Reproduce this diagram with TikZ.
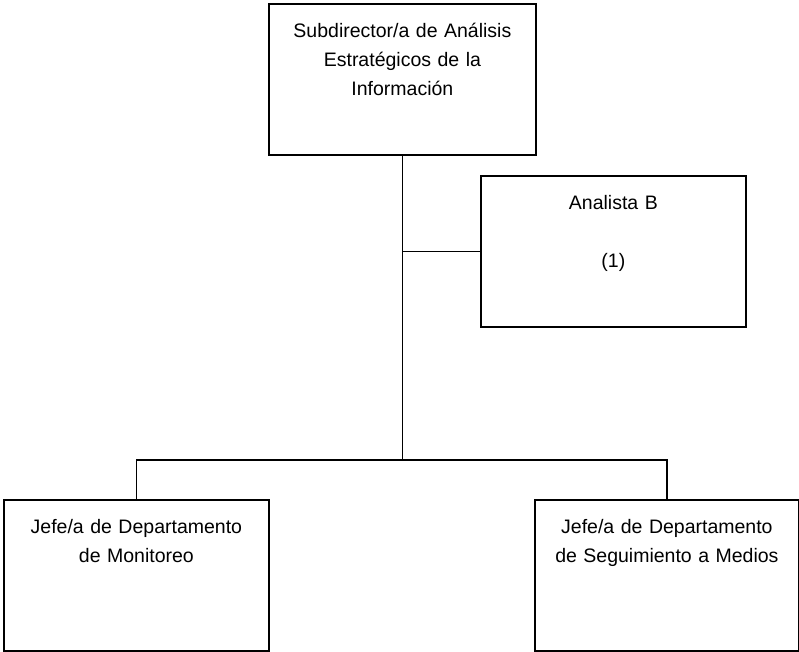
\documentclass[tikz,border=0pt]{standalone}
\usepackage{fontspec}
\setmainfont{Liberation Sans}
\usetikzlibrary{positioning}

\begin{document}
\begin{tikzpicture}[x=1pt, y=-1pt, line width=1.8pt, font=\fontsize{19.5}{29}\selectfont]
	\tikzset{puesto/.style={draw, anchor=north west, inner sep=0pt, align=center, text width=#1, text height=34pt, text depth=117pt}}
	\useasboundingbox (0,0) rectangle (799,652);
	\node[puesto=267pt] (sub) at (268,3) {Subdirector/a de Análisis\\ Estratégicos de la\\ Información};
	\node[puesto=265pt] (analista) at (480,175) {Analista B\\[29pt] (1)};
	\node[puesto=265pt] (monitoreo) at (3,499) {Jefe/a de Departamento\\ de Monitoreo};
	\node[puesto=264pt] (medios) at (534,499) {Jefe/a de Departamento\\ de Seguimiento a Medios};
	\coordinate (tronco) at (sub.south |- 0,460);

	% lineas de mando
	\draw (sub.south) -- (tronco);
	\draw (analista.west) -- (analista.west -| sub.south);
	\draw (monitoreo.north) -- (monitoreo.north |- tronco) -| (medios.north);
\end{tikzpicture}
\end{document}
